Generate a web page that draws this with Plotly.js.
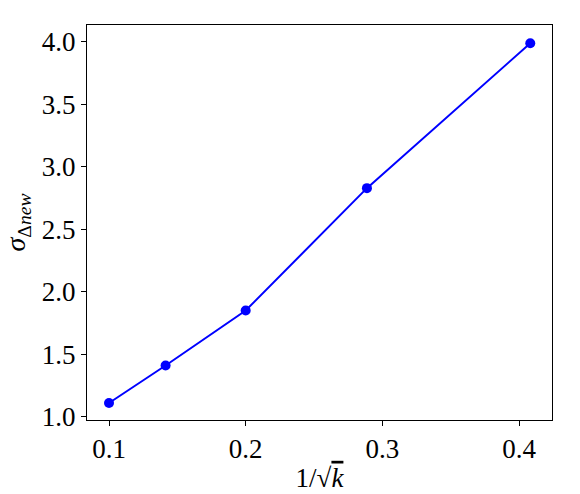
<!DOCTYPE html>
<html>
<head>
<meta charset="utf-8">
<script src="https://cdn.plot.ly/plotly-3.0.1.min.js"></script>
<style>
  html, body { margin: 0; padding: 0; background: #fff; }
  #plot { width: 580px; height: 494px; }
</style>
</head>
<body>
<div id="plot"></div>
<script>
// 1/sqrt(k) values and the measured sigma
const invSqrtK = [0.1, 0.1414, 0.2, 0.2887, 0.4082];
const sigma = [1.11, 1.41, 1.85, 2.83, 3.99];
const xTicks = [0.1, 0.2, 0.3, 0.4];
const yTicks = [1.0, 1.5, 2.0, 2.5, 3.0, 3.5, 4.0];

const serif = 'Liberation Serif';

let trace = {
    x: invSqrtK,
    y: sigma,
    type: 'scatter',
    mode: 'lines+markers',
    line: { color: '#0000ff', width: 2 },
    marker: { color: '#0000ff', size: 10 },
    showlegend: false
};

let axisCommon = {
    showgrid: false,
    zeroline: false,
    showline: true,
    mirror: true,
    linecolor: '#000',
    linewidth: 1,
    ticks: 'outside',
    ticklen: 5,
    tickwidth: 1,
    tickcolor: '#000',
    tickfont: { family: serif, size: 27, color: '#000' }
};

let layout = {
    width: 580,
    height: 494,
    margin: { l: 87, r: 28, t: 25, b: 74 },
    paper_bgcolor: '#fff',
    plot_bgcolor: '#fff',
    xaxis: Object.assign({}, axisCommon, {
        range: [0.0839, 0.4241],
        tickvals: xTicks,
        ticktext: xTicks.map(v => v.toFixed(1)),
        title: { text: '1/√<span style="text-decoration:overline"><i>k</i></span>', font: { family: serif, size: 27, color: '#000' }, standoff: 4 }
    }),
    yaxis: Object.assign({}, axisCommon, {
        range: [0.974, 4.136],
        tickvals: yTicks,
        ticktext: yTicks.map(v => v.toFixed(1)),
        title: { text: '<i>σ</i><sub>Δ<i>new</i></sub>', font: { family: serif, size: 28, color: '#000' }, standoff: 8 }
    })
};

Plotly.newPlot('plot', [trace], layout, { displayModeBar: false, staticPlot: true });
</script>
</body>
</html>
